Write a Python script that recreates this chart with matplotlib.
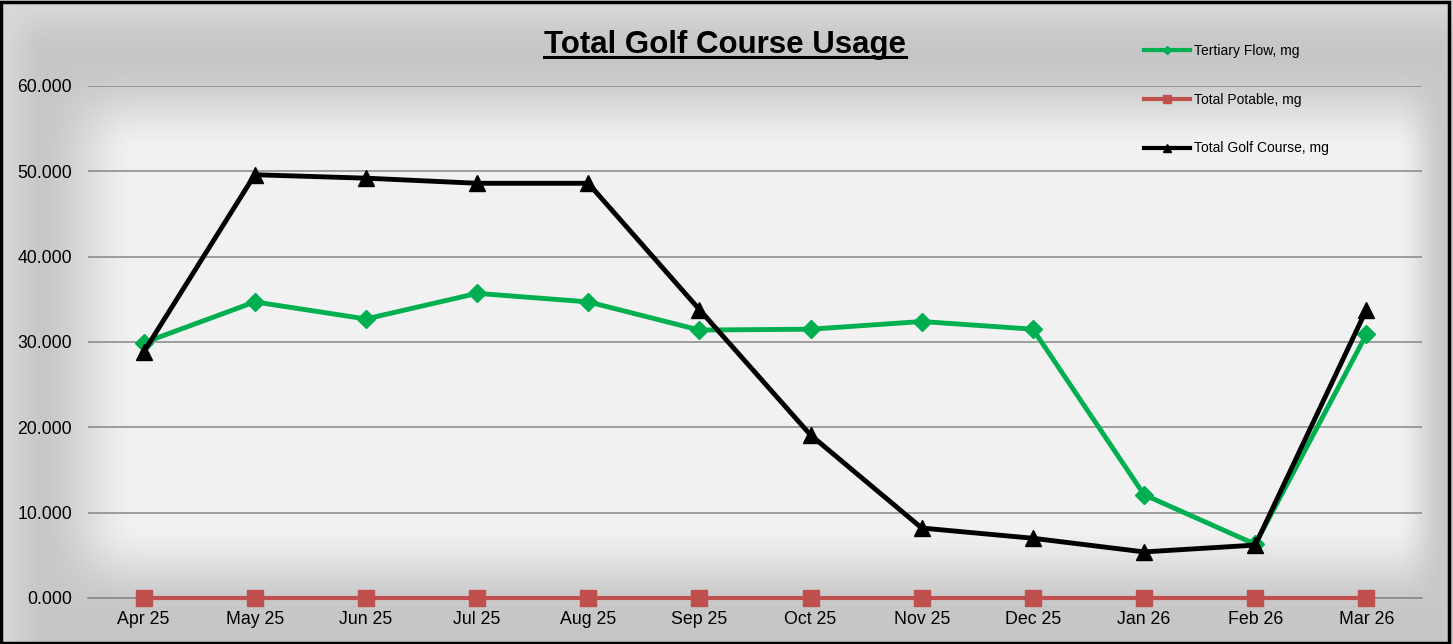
import numpy as np
import matplotlib
matplotlib.use("Agg")
import matplotlib.pyplot as plt
from matplotlib.lines import Line2D
from matplotlib.patches import Rectangle

plt.rcParams['font.family'] = ['Liberation Sans', 'DejaVu Sans']

months = ["Apr 25", "May 25", "Jun 25", "Jul 25", "Aug 25", "Sep 25",
          "Oct 25", "Nov 25", "Dec 25", "Jan 26", "Feb 26", "Mar 26"]
tertiary = [29.9, 34.7, 32.7, 35.7, 34.7, 31.4, 31.5, 32.4, 31.5, 12.1, 6.3, 30.9]
potable = [0.0] * 12
golf = [28.8, 49.6, 49.2, 48.6, 48.6, 33.8, 19.1, 8.2, 7.0, 5.4, 6.2, 33.8]
yticks = [0, 10, 20, 30, 40, 50, 60]
title = "Total Golf Course Usage"
labels = ["Tertiary Flow, mg", "Total Potable, mg", "Total Golf Course, mg"]

W, H = 1453, 644
fig = plt.figure(figsize=(W / 100, H / 100), dpi=100)

# background gradient
bg = fig.add_axes([0, 0, 1, 1], zorder=-10)
xs = np.arange(W, dtype=float)
ys = np.arange(H, dtype=float)
def ramp(v, a0, a1, b1, b0):
    r = np.ones_like(v)
    r = np.where(v < a1, np.clip((v - a0) / (a1 - a0), 0, 1), r)
    r = np.where(v > b1, np.clip((b0 - v) / (b0 - b1), 0, 1), r)
    return r * r * (3 - 2 * r)
fx = ramp(xs, 35, 140, 1395, 1448)
fy = ramp(ys, 60, 155, 520, 615)
F = fx[None, :] * fy[:, None]
gx = ramp(xs, -5, 45, 1500, 1600)
gy = ramp(ys, -5, 50, 700, 800)
G = gx[None, :] * gy[:, None]
dark, center, outer = 0.78, 0.949, 0.85
img = dark + (center - dark) * F + (outer - dark) * (1 - G) * (1 - F)
img = np.clip(img, 0, 1)
bg.imshow(np.dstack([img, img, img]), aspect='auto', extent=[0, 1, 0, 1], origin='upper')
bg.set_axis_off()

ax = fig.add_axes([88 / W, 1 - 598 / H, (1422 - 88) / W, (598 - 86) / H])
ax.set_facecolor('none')
x = np.arange(len(months))

ax.plot(x, potable, color='#C0504D', lw=3.0, marker='s', ms=11.5, zorder=3,
        clip_on=False, label=labels[1])
ax.plot(x, tertiary, color='#00B050', lw=3.5, marker='D', ms=9, zorder=4,
        clip_on=False, label=labels[0])
ax.plot(x, golf, color='#000000', lw=3.5, marker='^', ms=11, zorder=5,
        clip_on=False, label=labels[2])

ax.set_xlim(-0.5, 11.5)
ax.set_ylim(0, 60)
ax.set_yticks(yticks)
ax.set_yticklabels([f"{v:.3f}" for v in yticks], fontsize=12.7)
ax.set_xticks(x)
ax.set_xticklabels(months, fontsize=12.8)
ax.tick_params(axis='y', length=0, pad=11.5)
ax.tick_params(axis='x', length=0, pad=9.5)
for s in ['top', 'right', 'left']:
    ax.spines[s].set_visible(False)
ax.spines['bottom'].set_color('#868686')
ax.spines['bottom'].set_linewidth(1.1)
ax.yaxis.grid(True, color='#868686', lw=1.1)
ax.set_axisbelow(True)

# legend
handles = [Line2D([], [], color='#00B050', lw=3.0, marker='D', ms=4),
           Line2D([], [], color='#C0504D', lw=3.0, marker='s', ms=6),
           Line2D([], [], color='#000000', lw=3.0, marker='^', ms=6)]
leg = fig.legend(handles, labels, loc='upper left', bbox_to_anchor=(1144 / W, 1 - 44 / H),
                 frameon=False, fontsize=10, handlelength=3.3, handletextpad=0.3,
                 labelspacing=2.5, borderpad=0, borderaxespad=0)

# title with underline
t = fig.text(725 / W, 1 - 44.5 / H, title, ha='center', va='center', fontsize=22.5,
             fontweight='bold')
fig.canvas.draw()
bb = t.get_window_extent()
fig.add_artist(Line2D([bb.x0 / W, bb.x1 / W], [1 - 57 / H, 1 - 57 / H],
                      color='black', lw=2.2, transform=fig.transFigure))

# border
fig.add_artist(Rectangle((0.001, 0.002), 0.996, 0.995, transform=fig.transFigure,
                         fill=False, edgecolor='black', lw=2.5))

fig.savefig("out.png", dpi=100)
